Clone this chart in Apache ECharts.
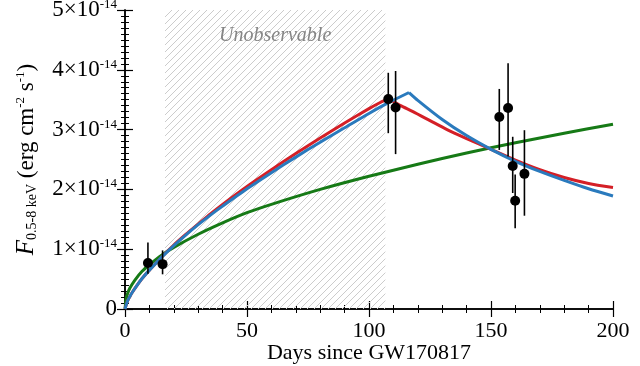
<!DOCTYPE html>
<html>
<head>
<meta charset="utf-8">
<script src="https://cdn.jsdelivr.net/npm/echarts@6/dist/echarts.min.js"></script>
<style>
  html, body { margin: 0; padding: 0; background: #fff; }
  #chart { width: 640px; height: 366px; }
</style>
</head>
<body>
<div id="chart"></div>
<script>
// flux values in units of 1e-14 erg cm^-2 s^-1
const obsDay = [9.4, 15.4, 107.9, 110.9, 153.4, 157.0, 158.9, 159.9, 163.7];
const obsFlux = [0.77, 0.75, 3.51, 3.37, 3.21, 3.36, 2.39, 1.81, 2.26];
const obsLow = [0.59, 0.58, 2.94, 2.59, 2.66, 2.55, 1.94, 1.35, 1.56];
const obsHigh = [1.11, 0.98, 3.95, 3.98, 3.68, 4.11, 2.88, 2.25, 2.99];

const redDay = [0, 1, 2, 3, 5, 7, 10, 13, 16, 20, 25, 30, 35, 40, 50, 60, 70, 80, 90, 100, 104, 106, 108, 110, 113, 118, 125, 132, 140, 150, 160, 170, 180, 190, 200];
const redFlux = [0, 0.13, 0.21, 0.28, 0.40, 0.51, 0.65, 0.78, 0.91, 1.07, 1.25, 1.42, 1.59, 1.75, 2.05, 2.33, 2.60, 2.86, 3.11, 3.35, 3.44, 3.48, 3.50, 3.47, 3.40, 3.30, 3.15, 3.00, 2.85, 2.67, 2.49, 2.33, 2.20, 2.10, 2.03];

const blueRiseDay = [0, 1, 2, 3, 5, 7, 10, 13, 16, 20, 25, 30, 35, 40, 50, 60, 70, 80, 90, 100, 108, 116.4];
const blueRiseFlux = [0, 0.13, 0.21, 0.28, 0.40, 0.51, 0.65, 0.78, 0.905, 1.06, 1.24, 1.41, 1.57, 1.72, 2.01, 2.28, 2.54, 2.79, 3.03, 3.27, 3.45, 3.62];
const blueFallDay = [116.4, 120, 130, 140, 150, 160, 170, 180, 190, 200];
const blueFallFlux = [3.62, 3.49, 3.17, 2.90, 2.67, 2.47, 2.30, 2.15, 2.01, 1.89];

const greenDay = [0, 0.5, 1, 2, 4, 7, 10, 15, 20, 30, 40, 50, 60, 80, 100, 120, 140, 160, 180, 200];
const greenFlux = [0, 0.18, 0.25, 0.35, 0.48, 0.63, 0.74, 0.90, 1.03, 1.25, 1.44, 1.61, 1.75, 2.00, 2.22, 2.42, 2.61, 2.78, 2.94, 3.09];

const xTicks = [0, 50, 100, 150, 200];
const yTicks = [0, 1, 2, 3, 4, 5];
const hatchRange = [16.4, 106.7];

const pairs = (xs, ys) => xs.map((x, i) => [x, ys[i]]);

// diagonal hatch for the unobservable window
const pat = document.createElement('canvas');
pat.width = 7;
pat.height = 7;
const pctx = pat.getContext('2d');
pctx.strokeStyle = '#cccccc';
pctx.lineWidth = 1;
pctx.beginPath();
pctx.moveTo(0, 7); pctx.lineTo(7, 0);
pctx.moveTo(-1, 1); pctx.lineTo(1, -1);
pctx.moveTo(6, 8); pctx.lineTo(8, 6);
pctx.stroke();

const serif = '"Liberation Serif", "DejaVu Serif", serif';
const chart = echarts.init(document.getElementById('chart'));

const axisCommon = {
  axisLine: { show: true, lineStyle: { color: '#000', width: 1.5 } },
  axisTick: { show: true, inside: true, length: 8, lineStyle: { color: '#000', width: 1.2 } },
  minorTick: { show: true, length: 4, lineStyle: { color: '#000', width: 1 } },
  splitLine: { show: false },
};

const curve = (data, color, z) => ({
  type: 'line',
  data,
  showSymbol: false,
  smooth: 0.25,
  lineStyle: { color, width: 3 },
  z,
  silent: true,
});

chart.setOption({
  animation: false,
  grid: { left: 125, right: 27, top: 10, bottom: 57, outerBoundsMode: 'none' },
  xAxis: [
    {
      ...axisCommon,
      type: 'value', min: 0, max: 200, interval: 50,
      minorTick: { ...axisCommon.minorTick, splitNumber: 5 },
      axisLabel: { color: '#000', fontFamily: serif, fontSize: 22, margin: 11,
        formatter: (v) => (xTicks.includes(v) ? String(v) : '') },
      name: 'Days since GW170817',
      nameLocation: 'middle',
      nameGap: 33,
      nameMoveOverlap: false,
      nameTextStyle: { color: '#000', fontFamily: serif, fontSize: 22 },
    },
    {
      ...axisCommon,
      type: 'value', min: 0, max: 200, interval: 50, position: 'top',
      minorTick: { ...axisCommon.minorTick, splitNumber: 5 },
      axisLabel: { show: false },
    },
  ],
  yAxis: [
    {
      ...axisCommon,
      type: 'value', min: 0, max: 5, interval: 1,
      minorTick: { ...axisCommon.minorTick, splitNumber: 10 },
      axisLabel: {
        color: '#000', fontFamily: serif, margin: 8,
        formatter: (v) => (!yTicks.includes(v) ? '' : v === 0 ? '{m|0}' : `{m|${v}×10}{s|-14}`),
        rich: {
          m: { fontFamily: serif, fontSize: 23, color: '#000' },
          s: { fontFamily: serif, fontSize: 13, color: '#000', verticalAlign: 'top', padding: [0, 0, 11, 0] },
        },
      },
      name: '{f|F}{sub|0.5-8 keV}{n| (erg cm}{sup|-2}{n| s}{sup|-1}{n|)}',
      nameLocation: 'middle',
      nameGap: 86,
      nameMoveOverlap: false,
      nameTextStyle: {
        rich: {
          f: { fontFamily: serif, fontSize: 25, fontStyle: 'italic', color: '#000' },
          sub: { fontFamily: serif, fontSize: 14, color: '#000', verticalAlign: 'bottom', padding: [10, 0, 0, 0] },
          n: { fontFamily: serif, fontSize: 23, color: '#000' },
          sup: { fontFamily: serif, fontSize: 13, color: '#000', verticalAlign: 'top', padding: [0, 0, 11, 0] },
        },
      },
    },
    {
      ...axisCommon,
      type: 'value', min: 0, max: 5, interval: 1, position: 'right',
      minorTick: { ...axisCommon.minorTick, splitNumber: 10 },
      axisLabel: { show: false },
    },
  ],
  series: [
    {
      type: 'line',
      data: [],
      silent: true,
      z: 1,
      markArea: {
        silent: true,
        itemStyle: { color: { image: pat, repeat: 'repeat' } },
        label: {
          show: true, position: 'insideTop', distance: 16,
          formatter: 'Unobservable',
          color: '#858585', fontFamily: serif, fontStyle: 'italic', fontSize: 20,
        },
        data: [[{ xAxis: hatchRange[0] }, { xAxis: hatchRange[1] }]],
      },
    },
    {
      type: 'custom',
      silent: true,
      z: 5,
      data: obsDay.map((d, i) => [d, obsLow[i], obsHigh[i]]),
      renderItem: (params, api) => {
        const lo = api.coord([api.value(0), api.value(1)]);
        const hi = api.coord([api.value(0), api.value(2)]);
        return {
          type: 'line',
          shape: { x1: lo[0], y1: lo[1], x2: hi[0], y2: hi[1] },
          style: { stroke: '#000', lineWidth: 1.6 },
        };
      },
    },
    curve(pairs(greenDay, greenFlux), '#167a16', 3),
    curve(pairs(redDay, redFlux), '#d41f26', 3),
    curve(pairs(blueRiseDay, blueRiseFlux), '#2a7abd', 4),
    curve(pairs(blueFallDay, blueFallFlux), '#2a7abd', 4),
    {
      type: 'scatter',
      data: pairs(obsDay, obsFlux),
      symbol: 'circle',
      symbolSize: 10,
      itemStyle: { color: '#000', opacity: 1 },
      z: 10,
      silent: true,
    },
  ],
});
</script>
</body>
</html>
